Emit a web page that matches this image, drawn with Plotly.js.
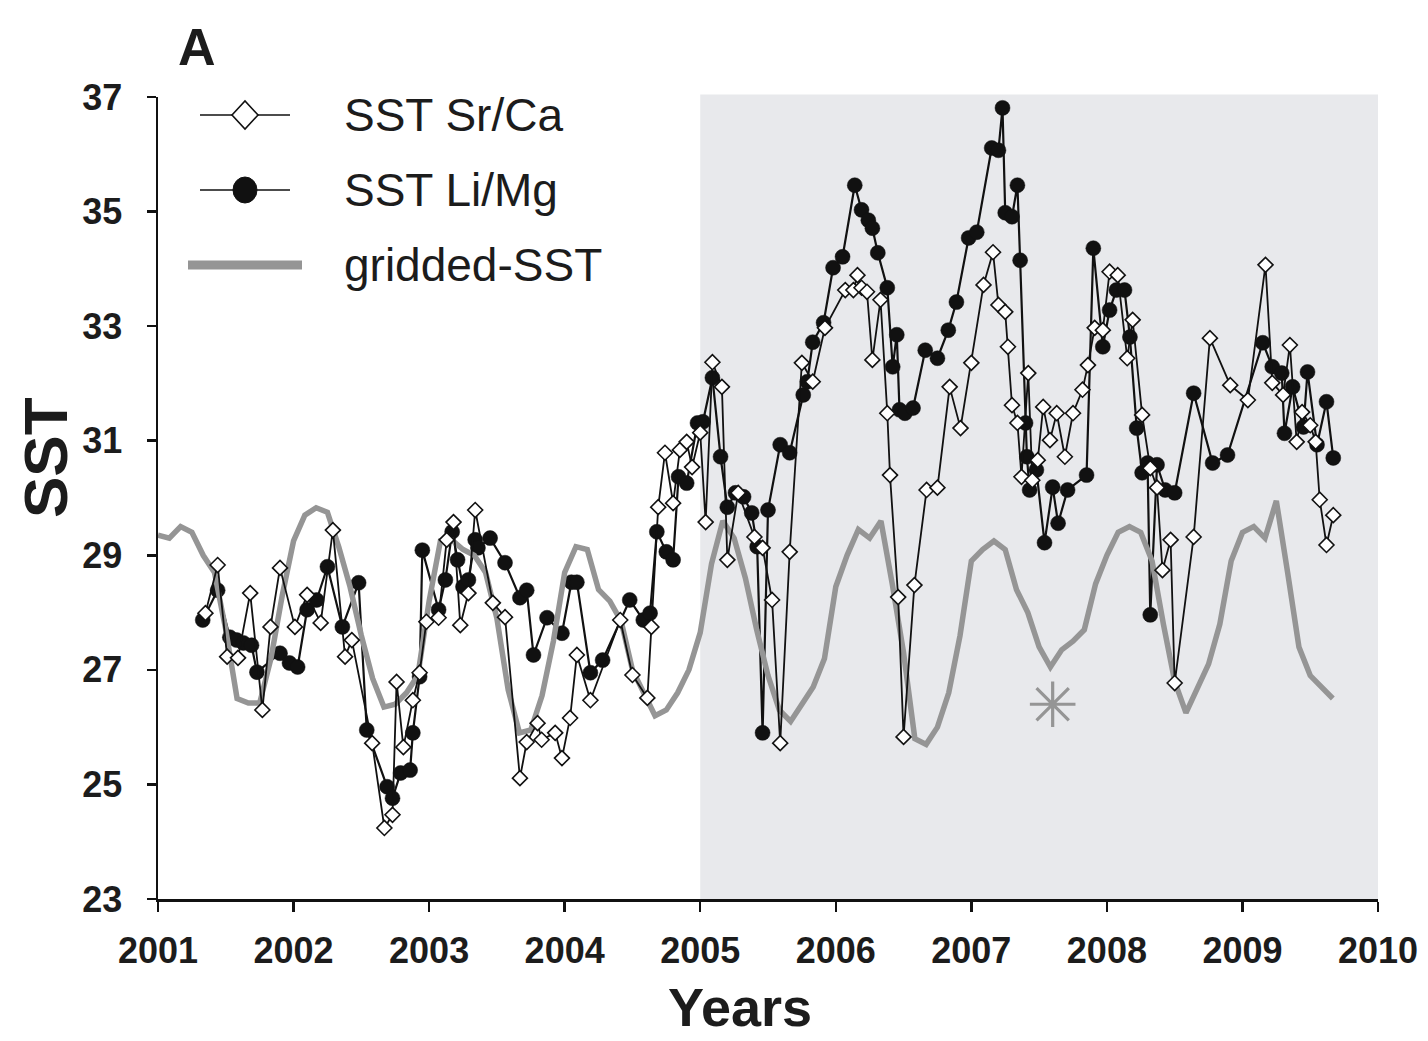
<!DOCTYPE html>
<html>
<head>
<meta charset="utf-8">
<script src="https://cdn.plot.ly/plotly-3.0.1.min.js"></script>
<style>
  html, body { margin: 0; padding: 0; background: #ffffff; }
  #chart { width: 1428px; height: 1041px; }
</style>
</head>
<body>
<div id="chart"></div>
<script>
// ---------------- DATA ----------------
const xTickVals = [2001, 2002, 2003, 2004, 2005, 2006, 2007, 2008, 2009, 2010];
const yTickVals = [23, 25, 27, 29, 31, 33, 35, 37];

// SST from Sr/Ca (open diamonds)
const srcaYear = [2001.35,2001.44,2001.51,2001.59,2001.68,2001.77,2001.83,2001.90,2002.01,2002.10,
  2002.20,2002.29,2002.38,2002.43,2002.58,2002.67,2002.73,2002.76,2002.81,2002.88,
  2002.93,2002.98,2003.07,2003.13,2003.18,2003.23,2003.29,2003.34,2003.47,2003.56,
  2003.67,2003.72,2003.80,2003.83,2003.93,2003.98,2004.04,2004.09,2004.19,2004.41,
  2004.50,2004.61,2004.64,2004.69,2004.74,2004.80,2004.85,2004.90,2004.94,2005.00,
  2005.04,2005.09,2005.16,2005.20,2005.28,2005.40,2005.46,2005.53,2005.59,2005.66,
  2005.75,2005.83,2005.92,2006.07,2006.13,2006.16,2006.19,2006.23,2006.27,2006.33,
  2006.38,2006.40,2006.46,2006.50,2006.58,2006.67,2006.75,2006.84,2006.92,2007.00,
  2007.09,2007.16,2007.20,2007.25,2007.27,2007.30,2007.34,2007.37,2007.42,2007.45,
  2007.49,2007.53,2007.58,2007.63,2007.69,2007.75,2007.82,2007.86,2007.91,2007.97,
  2008.02,2008.08,2008.15,2008.19,2008.26,2008.32,2008.37,2008.41,2008.47,2008.50,
  2008.64,2008.76,2008.91,2009.04,2009.17,2009.22,2009.30,2009.35,2009.40,2009.44,
  2009.50,2009.54,2009.57,2009.62,2009.67];
const srcaSST = [27.99,28.83,27.23,27.21,28.34,26.30,27.75,28.78,27.75,28.31,
  27.82,29.44,27.23,27.52,25.72,24.24,24.47,26.79,25.65,26.47,
  26.95,27.84,27.91,29.27,29.58,27.78,28.34,29.79,28.17,27.92,
  25.11,25.74,26.07,25.78,25.90,25.46,26.16,27.26,26.47,27.87,
  26.91,26.51,27.75,29.84,30.79,29.91,30.84,30.98,30.54,31.14,
  29.58,32.37,31.94,28.92,30.09,29.32,29.13,28.22,25.72,29.06,
  32.36,32.03,32.97,33.63,33.63,33.89,33.67,33.60,32.41,33.46,
  31.48,30.40,28.27,25.83,28.48,30.14,30.18,31.94,31.22,32.36,
  33.72,34.29,33.37,33.25,32.64,31.62,31.31,30.37,32.18,30.31,
  30.66,31.59,31.01,31.48,30.72,31.48,31.89,32.32,32.97,32.93,
  33.95,33.89,32.44,33.11,31.45,30.52,30.18,28.74,29.27,26.77,
  29.32,32.79,31.97,31.71,34.07,32.01,31.80,32.67,30.98,31.50,
  31.27,30.98,29.97,29.18,29.70];

// SST from Li/Mg (filled circles)
const limgYear = [2001.33,2001.44,2001.53,2001.58,2001.63,2001.69,2001.73,2001.90,2001.97,2002.03,
  2002.10,2002.17,2002.25,2002.36,2002.48,2002.54,2002.69,2002.73,2002.79,2002.86,
  2002.88,2002.93,2002.95,2003.07,2003.12,2003.17,2003.21,2003.25,2003.29,2003.34,
  2003.36,2003.45,2003.56,2003.67,2003.72,2003.77,2003.87,2003.98,2004.05,2004.09,
  2004.19,2004.28,2004.48,2004.58,2004.63,2004.68,2004.75,2004.80,2004.84,2004.90,
  2004.98,2005.02,2005.09,2005.15,2005.20,2005.26,2005.32,2005.38,2005.42,2005.46,
  2005.50,2005.59,2005.66,2005.76,2005.79,2005.83,2005.91,2005.98,2006.05,2006.14,
  2006.19,2006.24,2006.27,2006.31,2006.38,2006.42,2006.45,2006.47,2006.51,2006.57,
  2006.66,2006.75,2006.83,2006.89,2006.98,2007.04,2007.15,2007.20,2007.23,2007.25,
  2007.30,2007.34,2007.36,2007.40,2007.41,2007.43,2007.48,2007.54,2007.60,2007.64,
  2007.71,2007.85,2007.90,2007.97,2008.02,2008.07,2008.13,2008.17,2008.22,2008.26,
  2008.30,2008.32,2008.37,2008.43,2008.50,2008.64,2008.78,2008.89,2009.15,2009.22,
  2009.29,2009.31,2009.37,2009.45,2009.48,2009.55,2009.62,2009.67];
const limgSST = [27.87,28.39,27.57,27.52,27.47,27.43,26.96,27.29,27.12,27.05,
  28.05,28.22,28.80,27.75,28.52,25.95,24.96,24.76,25.20,25.25,
  25.90,26.88,29.09,28.05,28.57,29.41,28.92,28.45,28.57,29.27,
  29.13,29.30,28.87,28.26,28.39,27.26,27.91,27.64,28.53,28.53,
  26.95,27.17,28.22,27.87,27.99,29.41,29.06,28.92,30.37,30.26,
  31.31,31.33,32.10,30.72,29.84,30.09,30.02,29.74,29.15,25.90,
  29.79,30.93,30.79,31.80,32.03,32.72,33.06,34.02,34.21,35.46,
  35.03,34.85,34.71,34.28,33.67,32.29,32.85,31.54,31.48,31.57,
  32.58,32.44,32.93,33.42,34.54,34.64,36.11,36.07,36.81,34.98,
  34.91,35.46,34.15,31.31,30.72,30.14,30.49,29.22,30.19,29.56,
  30.14,30.40,34.36,32.64,33.28,33.63,33.63,32.81,31.22,30.44,
  30.61,27.96,30.58,30.14,30.09,31.83,30.61,30.75,32.71,32.29,
  32.18,31.13,31.94,31.24,32.20,30.93,31.68,30.70];

// gridded SST, monthly values starting January 2001
const griddedStartYear = 2001;
const griddedSST = [29.35,29.30,29.50,29.40,29.00,28.70,27.70,26.50,26.42,26.42,27.20,28.30,
  29.25,29.70,29.83,29.75,29.15,28.45,27.60,26.85,26.35,26.40,26.60,26.90,
  28.20,29.25,29.27,29.10,29.00,28.70,27.90,26.65,25.90,25.95,26.55,27.50,
  28.70,29.15,29.10,28.40,28.20,27.85,27.00,26.60,26.20,26.30,26.60,27.00,
  27.65,28.85,29.60,29.30,28.60,27.70,26.90,26.30,26.10,26.40,26.70,27.20,
  28.45,29.00,29.45,29.30,29.60,28.50,27.30,25.80,25.70,26.00,26.60,27.60,
  28.90,29.10,29.25,29.10,28.40,28.00,27.40,27.05,27.35,27.50,27.70,28.50,
  29.00,29.40,29.50,29.40,28.90,27.80,26.80,26.25,26.70,27.10,27.80,28.90,
  29.40,29.50,29.30,29.95,28.70,27.40,26.90,26.70,26.50];
const griddedYear = griddedSST.map((v, i) => griddedStartYear + i / 12);

// asterisk mark
const starYear = [2007.60];
const starSST = [26.4];

// shaded period
const shadeStart = 2005, shadeEnd = 2010;

// ---------------- STYLE ----------------
const FONT = 'Liberation Sans, Arial, Helvetica, sans-serif';
const INK = '#1c1c1c';
const GRAY = '#959595';

const traces = [
  {
    x: limgYear, y: limgSST, type: 'scatter', mode: 'lines+markers', name: 'SST Li/Mg',
    line: { color: '#111111', width: 2.2 },
    marker: { symbol: 'circle', size: 15, color: '#111111', line: { color: '#111111', width: 0.5 } },
    showlegend: false, hoverinfo: 'x+y'
  },
  {
    x: griddedYear, y: griddedSST, type: 'scatter', mode: 'lines', name: 'gridded-SST',
    line: { color: GRAY, width: 5.5 },
    showlegend: false, hoverinfo: 'x+y'
  },
  {
    x: srcaYear, y: srcaSST, type: 'scatter', mode: 'lines+markers', name: 'SST Sr/Ca',
    line: { color: '#111111', width: 1.8 },
    marker: { symbol: 'diamond', size: 11.5, color: '#ffffff', line: { color: '#111111', width: 1.6 } },
    showlegend: false, hoverinfo: 'x+y'
  },
  {
    x: starYear, y: starSST, type: 'scatter', mode: 'markers', name: '*',
    marker: { symbol: 'asterisk-open', size: 38, color: GRAY, line: { color: GRAY, width: 3.2 } },
    showlegend: false, hoverinfo: 'skip'
  }
];

// pixel -> paper helpers for legend glyph placement (plot area: x 158..1378, y 97..899)
const L = 158, R = 1378, T = 97, B = 899;
const px = x => (x - L) / (R - L);
const py = y => (B - y) / (B - T);

const rowY = [115, 190, 265];

const shapes = [
  { type: 'rect', xref: 'x', yref: 'paper', x0: shadeStart, x1: shadeEnd, y0: 0, y1: 1.003,
    fillcolor: 'rgb(232,233,236)', line: { width: 0 }, layer: 'below' },
  // legend row 1: line + open diamond
  { type: 'line', xref: 'paper', yref: 'paper', x0: px(200), x1: px(290), y0: py(rowY[0]), y1: py(rowY[0]),
    line: { color: '#111111', width: 1.5 } },
  { type: 'path', xref: 'paper', yref: 'paper', xsizemode: 'pixel', ysizemode: 'pixel',
    xanchor: px(245), yanchor: py(rowY[0]), path: 'M-13,0L0,14L13,0L0,-14Z',
    fillcolor: '#ffffff', line: { color: '#111111', width: 1.6 } },
  // legend row 2: line + filled circle
  { type: 'line', xref: 'paper', yref: 'paper', x0: px(200), x1: px(290), y0: py(rowY[1]), y1: py(rowY[1]),
    line: { color: '#111111', width: 1.5 } },
  { type: 'circle', xref: 'paper', yref: 'paper', xsizemode: 'pixel', ysizemode: 'pixel',
    xanchor: px(245), yanchor: py(rowY[1]), x0: -12, x1: 12, y0: -13, y1: 13,
    fillcolor: '#111111', line: { color: '#111111', width: 1 } },
  // legend row 3: thick gray line
  { type: 'line', xref: 'paper', yref: 'paper', x0: px(188), x1: px(302), y0: py(rowY[2]), y1: py(rowY[2]),
    line: { color: GRAY, width: 9 } }
];

const legendNames = ['SST Sr/Ca', 'SST Li/Mg', 'gridded-SST'];

const annotations = [
  { text: 'A', xref: 'paper', yref: 'paper', x: px(197), y: py(47), xanchor: 'center', yanchor: 'middle',
    showarrow: false, font: { family: FONT, size: 52, color: INK, weight: 'bold' } },
  { text: 'SST', xref: 'paper', yref: 'paper', x: px(45), y: py(458), xanchor: 'center', yanchor: 'middle',
    textangle: -90, showarrow: false, font: { family: FONT, size: 62, color: INK, weight: 'bold' } },
  { text: 'Years', xref: 'paper', yref: 'paper', x: px(740), y: py(1039), xanchor: 'center', yanchor: 'bottom',
    showarrow: false, font: { family: FONT, size: 54, color: INK, weight: 'bold' } }
].concat(legendNames.map((n, i) => ({
  text: n, xref: 'paper', yref: 'paper', x: px(342), y: py(rowY[i]), xanchor: 'left', yanchor: 'middle',
  showarrow: false, font: { family: FONT, size: 46, color: INK }
})));

const layout = {
  width: 1428, height: 1041,
  margin: { l: L, r: 1428 - R, t: T, b: 1041 - B, pad: 0 },
  paper_bgcolor: '#ffffff', plot_bgcolor: 'rgba(0,0,0,0)',
  showlegend: false,
  font: { family: FONT, color: INK },
  xaxis: {
    range: [2001, 2010], tickvals: xTickVals, ticktext: xTickVals.map(String),
    showgrid: false, zeroline: false, showline: true, linecolor: '#111111', linewidth: 2.5,
    ticks: 'outside', ticklen: 10, tickwidth: 2.5, tickcolor: '#111111',
    tickfont: { family: FONT, size: 36, color: INK, weight: 'bold' },
    ticklabelstandoff: 8, fixedrange: true
  },
  yaxis: {
    range: [23, 37], tickvals: yTickVals, ticktext: yTickVals.map(String),
    showgrid: false, zeroline: false, showline: true, linecolor: '#111111', linewidth: 2.5,
    ticks: 'outside', ticklen: 9, tickwidth: 2.5, tickcolor: '#111111',
    tickfont: { family: FONT, size: 36, color: INK, weight: 'bold' },
    ticklabelstandoff: 17, fixedrange: true
  },
  shapes: shapes,
  annotations: annotations
};

Plotly.newPlot('chart', traces, layout, { displayModeBar: false, staticPlot: true });
</script>
</body>
</html>
